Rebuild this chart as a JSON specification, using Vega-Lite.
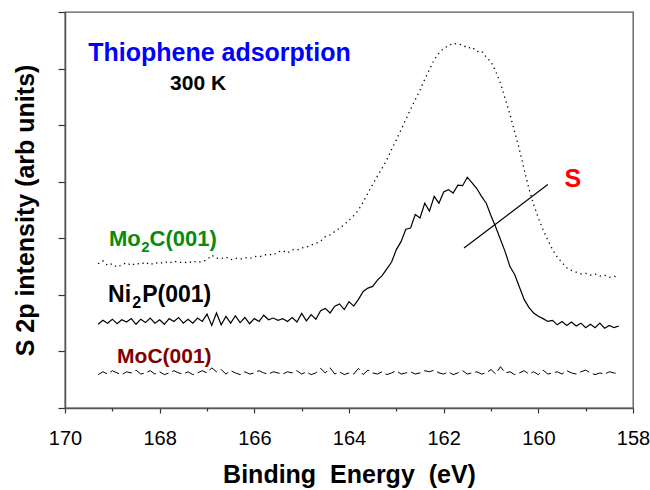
{
 "$schema": "https://vega.github.io/schema/vega-lite/v6.json",
 "width": 568, "height": 396,
 "autosize": {"type": "none"},
 "padding": {"left": 65, "top": 12, "right": 17, "bottom": 82},
 "config": {"font": "Liberation Sans", "view": {"stroke": "#555", "strokeWidth": 1.3}, "axis": {"grid": false, "domainColor": "#555", "domainWidth": 1.5, "tickColor": "#333", "tickWidth": 1.2}},
 "data": {"values": [
{"x":169.3,"a":2.55,"b":1.48,"c":0.59},{"x":169.2,"a":2.60,"b":1.55,"c":0.64},{"x":169.1,"a":2.52,"b":1.50,"c":0.60},{"x":169.0,"a":2.55,"b":1.57,"c":0.66},{"x":168.9,"a":2.49,"b":1.49,"c":0.62},{"x":168.8,"a":2.53,"b":1.56,"c":0.59},{"x":168.7,"a":2.57,"b":1.52,"c":0.64},{"x":168.6,"a":2.52,"b":1.58,"c":0.62},{"x":168.5,"a":2.56,"b":1.48,"c":0.67},{"x":168.4,"a":2.54,"b":1.57,"c":0.60},
{"x":168.3,"a":2.58,"b":1.51,"c":0.62},{"x":168.2,"a":2.53,"b":1.59,"c":0.66},{"x":168.1,"a":2.57,"b":1.50,"c":0.60},{"x":168.0,"a":2.55,"b":1.56,"c":0.64},{"x":167.9,"a":2.59,"b":1.48,"c":0.59},{"x":167.8,"a":2.56,"b":1.58,"c":0.62},{"x":167.7,"a":2.60,"b":1.53,"c":0.66},{"x":167.6,"a":2.57,"b":1.60,"c":0.62},{"x":167.5,"a":2.58,"b":1.50,"c":0.60},{"x":167.4,"a":2.56,"b":1.57,"c":0.64},
{"x":167.3,"a":2.60,"b":1.50,"c":0.59},{"x":167.2,"a":2.57,"b":1.59,"c":0.62},{"x":167.1,"a":2.59,"b":1.53,"c":0.66},{"x":167.0,"a":2.62,"b":1.66,"c":0.62},{"x":166.9,"a":2.70,"b":1.46,"c":0.71},{"x":166.8,"a":2.65,"b":1.68,"c":0.64},{"x":166.7,"a":2.64,"b":1.47,"c":0.68},{"x":166.6,"a":2.67,"b":1.62,"c":0.60},{"x":166.5,"a":2.62,"b":1.50,"c":0.66},{"x":166.4,"a":2.65,"b":1.63,"c":0.62},
{"x":166.3,"a":2.63,"b":1.51,"c":0.59},{"x":166.2,"a":2.66,"b":1.60,"c":0.64},{"x":166.1,"a":2.64,"b":1.49,"c":0.60},{"x":166.0,"a":2.68,"b":1.58,"c":0.62},{"x":165.9,"a":2.67,"b":1.53,"c":0.66},{"x":165.8,"a":2.70,"b":1.64,"c":0.62},{"x":165.7,"a":2.72,"b":1.56,"c":0.60},{"x":165.6,"a":2.70,"b":1.59,"c":0.64},{"x":165.5,"a":2.76,"b":1.55,"c":0.62},{"x":165.4,"a":2.78,"b":1.58,"c":0.60},
{"x":165.3,"a":2.74,"b":1.53,"c":0.64},{"x":165.2,"a":2.80,"b":1.60,"c":0.62},{"x":165.1,"a":2.79,"b":1.52,"c":0.66},{"x":165.0,"a":2.83,"b":1.67,"c":0.60},{"x":164.9,"a":2.84,"b":1.54,"c":0.64},{"x":164.8,"a":2.88,"b":1.65,"c":0.59},{"x":164.7,"a":2.91,"b":1.57,"c":0.62},{"x":164.6,"a":2.95,"b":1.72,"c":0.70},{"x":164.5,"a":3.03,"b":1.76,"c":0.62},{"x":164.4,"a":3.06,"b":1.68,"c":0.71},
{"x":164.3,"a":3.12,"b":1.80,"c":0.60},{"x":164.2,"a":3.18,"b":1.84,"c":0.64},{"x":164.1,"a":3.24,"b":1.74,"c":0.59},{"x":164.0,"a":3.32,"b":1.88,"c":0.62},{"x":163.9,"a":3.40,"b":1.80,"c":0.60},{"x":163.8,"a":3.50,"b":1.92,"c":0.70},{"x":163.7,"a":3.64,"b":2.06,"c":0.59},{"x":163.6,"a":3.80,"b":2.12,"c":0.67},{"x":163.5,"a":3.95,"b":2.15,"c":0.62},{"x":163.4,"a":4.10,"b":2.26,"c":0.60},
{"x":163.3,"a":4.24,"b":2.34,"c":0.64},{"x":163.2,"a":4.39,"b":2.46,"c":0.59},{"x":163.1,"a":4.57,"b":2.58,"c":0.62},{"x":163.0,"a":4.74,"b":2.80,"c":0.66},{"x":162.9,"a":4.92,"b":2.94,"c":0.60},{"x":162.8,"a":5.10,"b":3.16,"c":0.62},{"x":162.7,"a":5.28,"b":3.18,"c":0.64},{"x":162.6,"a":5.45,"b":3.42,"c":0.60},{"x":162.5,"a":5.62,"b":3.36,"c":0.62},{"x":162.4,"a":5.81,"b":3.62,"c":0.66},
{"x":162.3,"a":5.98,"b":3.48,"c":0.64},{"x":162.2,"a":6.16,"b":3.74,"c":0.67},{"x":162.1,"a":6.27,"b":3.62,"c":0.62},{"x":162.0,"a":6.36,"b":3.82,"c":0.60},{"x":161.9,"a":6.40,"b":3.86,"c":0.64},{"x":161.8,"a":6.45,"b":3.80,"c":0.59},{"x":161.7,"a":6.43,"b":3.94,"c":0.62},{"x":161.6,"a":6.42,"b":3.93,"c":0.66},{"x":161.5,"a":6.36,"b":4.08,"c":0.60},{"x":161.4,"a":6.38,"b":3.98,"c":0.62},
{"x":161.3,"a":6.30,"b":3.88,"c":0.64},{"x":161.2,"a":6.31,"b":3.74,"c":0.60},{"x":161.1,"a":6.20,"b":3.62,"c":0.62},{"x":161.0,"a":6.12,"b":3.40,"c":0.68},{"x":160.9,"a":5.95,"b":3.20,"c":0.60},{"x":160.8,"a":5.74,"b":2.98,"c":0.73},{"x":160.7,"a":5.47,"b":2.76,"c":0.62},{"x":160.6,"a":5.19,"b":2.50,"c":0.64},{"x":160.5,"a":4.88,"b":2.36,"c":0.59},{"x":160.4,"a":4.57,"b":2.14,"c":0.62},
{"x":160.3,"a":4.22,"b":1.92,"c":0.66},{"x":160.2,"a":3.88,"b":1.78,"c":0.60},{"x":160.1,"a":3.60,"b":1.68,"c":0.64},{"x":160.0,"a":3.36,"b":1.62,"c":0.59},{"x":159.9,"a":3.15,"b":1.58,"c":0.67},{"x":159.8,"a":2.97,"b":1.53,"c":0.60},{"x":159.7,"a":2.80,"b":1.55,"c":0.62},{"x":159.6,"a":2.67,"b":1.47,"c":0.64},{"x":159.5,"a":2.57,"b":1.53,"c":0.60},{"x":159.4,"a":2.48,"b":1.46,"c":0.66},
{"x":159.3,"a":2.43,"b":1.52,"c":0.62},{"x":159.2,"a":2.40,"b":1.45,"c":0.60},{"x":159.1,"a":2.37,"b":1.50,"c":0.64},{"x":159.0,"a":2.38,"b":1.42,"c":0.67},{"x":158.9,"a":2.35,"b":1.48,"c":0.62},{"x":158.8,"a":2.37,"b":1.42,"c":0.59},{"x":158.7,"a":2.33,"b":1.50,"c":0.62},{"x":158.6,"a":2.35,"b":1.41,"c":0.60},{"x":158.5,"a":2.31,"b":1.46,"c":0.64},{"x":158.4,"a":2.33,"b":1.42,"c":0.62},{"x":158.3,"a":2.31,"b":1.45,"c":0.60}
 ]},
 "resolve": {"axis": {"x": "independent"}},
 "layer": [
  {"mark": {"type": "line", "color": "black", "strokeWidth": 1.3, "strokeDash": [1.3, 3.8]},
   "encoding": {
    "x": {"field": "x", "type": "quantitative", "scale": {"domain": [158, 170], "reverse": true},
     "axis": {"values": [158,160,162,164,166,168,170], "format": "d", "title": "Binding\u00a0 Energy\u00a0 (eV)", "titleFontSize": 25, "titleFontWeight": "bold", "titleColor": "black", "labelFontSize": 20, "labelColor": "black", "labelPadding": 15, "labelFlush": false, "tickSize": 5, "titlePadding": 14, "orient": "bottom"}},
    "y": {"field": "a", "type": "quantitative", "scale": {"domain": [0, 7]},
     "axis": {"values": [0,1,2,3,4,5,6,7], "labels": false, "tickSize": 7, "title": "S 2p intensity (arb units)", "titleFontSize": 25, "titleFontWeight": "bold", "titleColor": "black", "titlePadding": 19}}
   }},
  {"mark": {"type": "line", "color": "black", "strokeWidth": 1.2},
   "encoding": {
    "x": {"field": "x", "type": "quantitative", "axis": {"values": [159,161,163,165,167,169], "labels": false, "tickSize": 3, "domain": false, "title": null, "orient": "bottom"}},
    "y": {"field": "b", "type": "quantitative"}
   }},
  {"mark": {"type": "line", "color": "black", "strokeWidth": 1, "strokeDash": [10, 4]},
   "encoding": {
    "x": {"field": "x", "type": "quantitative", "axis": null},
    "y": {"field": "c", "type": "quantitative"}
   }},
  {"data": {"values": [{"x": 161.57, "y": 2.83, "x2": 159.80, "y2": 3.95}]},
   "mark": {"type": "rule", "color": "black", "strokeWidth": 1.2},
   "encoding": {"x": {"field": "x", "type": "quantitative", "axis": null}, "y": {"field": "y", "type": "quantitative"}, "x2": {"field": "x2"}, "y2": {"field": "y2"}}},
  {"data": {"values": [{"x": 169.51, "y": 6.13, "t": "Thiophene adsorption"}]},
   "mark": {"type": "text", "align": "left", "baseline": "alphabetic", "fontSize": 25, "fontWeight": "bold", "color": "#0000ff"},
   "encoding": {"x": {"field": "x", "type": "quantitative", "axis": null}, "y": {"field": "y", "type": "quantitative"}, "text": {"field": "t"}}},
  {"data": {"values": [{"x": 167.78, "y": 5.63, "t": "300 K"}]},
   "mark": {"type": "text", "align": "left", "baseline": "alphabetic", "fontSize": 21, "fontWeight": "bold", "color": "black"},
   "encoding": {"x": {"field": "x", "type": "quantitative", "axis": null}, "y": {"field": "y", "type": "quantitative"}, "text": {"field": "t"}}},
  {"data": {"values": [{"x": 159.27, "y": 4.04, "t": "S"}]},
   "mark": {"type": "text", "align": "center", "baseline": "middle", "fontSize": 25, "fontWeight": "bold", "color": "#ff0000"},
   "encoding": {"x": {"field": "x", "type": "quantitative", "axis": null}, "y": {"field": "y", "type": "quantitative"}, "text": {"field": "t"}}},
  {"data": {"values": [{"x": 169.07, "y": 2.867, "t": "Mo"}, {"x": 168.215, "y": 2.867, "t": "C(001)"}]},
   "mark": {"type": "text", "align": "left", "baseline": "alphabetic", "fontSize": 22, "fontWeight": "bold", "color": "#0a8a0a"},
   "encoding": {"x": {"field": "x", "type": "quantitative", "axis": null}, "y": {"field": "y", "type": "quantitative"}, "text": {"field": "t"}}},
  {"data": {"values": [{"x": 168.39, "y": 2.76, "t": "2"}]},
   "mark": {"type": "text", "align": "left", "baseline": "alphabetic", "fontSize": 15, "fontWeight": "bold", "color": "#0a8a0a"},
   "encoding": {"x": {"field": "x", "type": "quantitative", "axis": null}, "y": {"field": "y", "type": "quantitative"}, "text": {"field": "t"}}},
  {"data": {"values": [{"x": 169.09, "y": 1.88, "t": "Ni"}, {"x": 168.37, "y": 1.88, "t": "P(001)"}]},
   "mark": {"type": "text", "align": "left", "baseline": "alphabetic", "fontSize": 23, "fontWeight": "bold", "color": "black"},
   "encoding": {"x": {"field": "x", "type": "quantitative", "axis": null}, "y": {"field": "y", "type": "quantitative"}, "text": {"field": "t"}}},
  {"data": {"values": [{"x": 168.58, "y": 1.77, "t": "2"}]},
   "mark": {"type": "text", "align": "left", "baseline": "alphabetic", "fontSize": 16, "fontWeight": "bold", "color": "black"},
   "encoding": {"x": {"field": "x", "type": "quantitative", "axis": null}, "y": {"field": "y", "type": "quantitative"}, "text": {"field": "t"}}},
  {"data": {"values": [{"x": 168.90, "y": 0.796, "t": "MoC(001)"}]},
   "mark": {"type": "text", "align": "left", "baseline": "alphabetic", "fontSize": 21, "fontWeight": "bold", "color": "#800000"},
   "encoding": {"x": {"field": "x", "type": "quantitative", "axis": null}, "y": {"field": "y", "type": "quantitative"}, "text": {"field": "t"}}}
 ]
}
